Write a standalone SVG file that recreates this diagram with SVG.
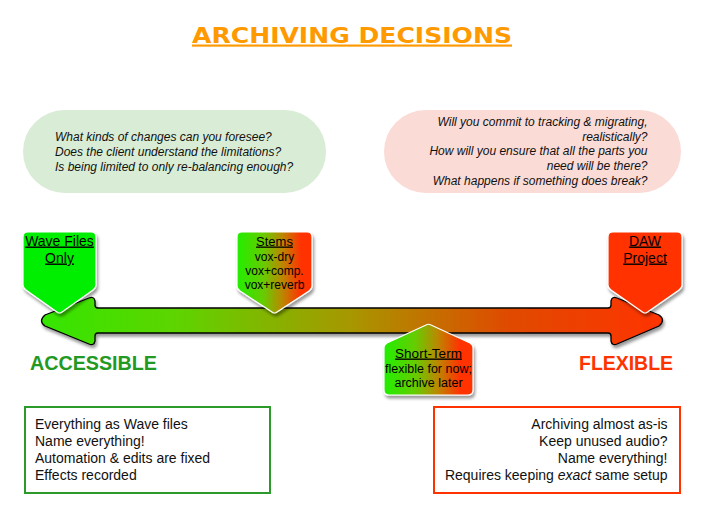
<svg xmlns="http://www.w3.org/2000/svg" width="705" height="513" viewBox="0 0 705 513">
<defs>
  <linearGradient id="gAxis" gradientUnits="userSpaceOnUse" x1="40" y1="0" x2="665" y2="0">
    <stop offset="0" stop-color="#33E600"/>
    <stop offset="0.22" stop-color="#5ED400"/>
    <stop offset="0.5" stop-color="#A89600"/>
    <stop offset="0.75" stop-color="#E04A00"/>
    <stop offset="1" stop-color="#FF3300"/>
  </linearGradient>
  <linearGradient id="gNode" x1="0" y1="0" x2="1" y2="0">
    <stop offset="0" stop-color="#22EE00"/>
    <stop offset="0.35" stop-color="#66CC00"/>
    <stop offset="0.6" stop-color="#BB8800"/>
    <stop offset="0.85" stop-color="#FF3300"/>
    <stop offset="1" stop-color="#FF3300"/>
  </linearGradient>
  <filter id="shadow" x="-20%" y="-20%" width="140%" height="150%">
    <feDropShadow dx="1.5" dy="3" stdDeviation="1.8" flood-color="#000" flood-opacity="0.4"/>
  </filter>
</defs>
<style>
  .node { stroke: #ffffff; stroke-width: 1.2; filter: url(#shadow); }
  .nt { font-family: "Liberation Sans", Arial, sans-serif; fill: #000; text-anchor: middle; }
  .u { text-decoration: underline; }
  .q { font-family: "Liberation Sans", Arial, sans-serif; font-size: 12px; font-style: italic; fill: #111; }
  .bt { font-family: "Liberation Sans", Arial, sans-serif; font-size: 14px; fill: #111; }
  .lbl { font-family: "Liberation Sans", Arial, sans-serif; font-size: 20px; font-weight: bold; }
</style>
<rect width="705" height="513" fill="#ffffff"/>

<g id="title">
  <text x="192" y="42.5" font-family="'DejaVu Sans', Verdana, sans-serif" font-weight="bold" font-size="21.5" fill="#FF9900" text-decoration="underline" textLength="320" lengthAdjust="spacingAndGlyphs">ARCHIVING DECISIONS</text>
</g>

<g id="bubble-left">
  <rect x="23" y="110" width="303" height="83" rx="41.5" fill="#D9EDD6"/>
  <text class="q" x="55" y="141">What kinds of changes can you foresee?</text>
  <text class="q" x="55" y="156">Does the client understand the limitations?</text>
  <text class="q" x="55" y="171">Is being limited to only re-balancing enough?</text>
</g>

<g id="bubble-right">
  <rect x="384" y="110" width="297" height="83" rx="41.5" fill="#FADBD6"/>
  <g text-anchor="end">
    <text class="q" x="647.5" y="126">Will you commit to tracking &amp; migrating,</text>
    <text class="q" x="647.5" y="140.7">realistically?</text>
    <text class="q" x="647.5" y="155.4">How will you ensure that all the parts you</text>
    <text class="q" x="647.5" y="170">need will be there?</text>
    <text class="q" x="647.5" y="184.7">What happens if something does break?</text>
  </g>
</g>

<g id="connectors">
  <path id="axis" d="M 98,308 H 608 Q 611,308 611,305 L 611,301 Q 612,296 617,298 L 659,315 Q 666,320 659,326 L 617,344 Q 612,346 611,341 L 611,336 Q 611,333 608,333 H 98 Q 95,333 95,336 L 95,341 Q 94,346 89,344 L 45,326 Q 38,321 45,315 L 89,298 Q 94,296 95,301 L 95,305 Q 95,308 98,308 Z" fill="url(#gAxis)" stroke="#000" stroke-width="1.3" filter="url(#shadow)"/>
</g>

<g id="node-wave">
  <path class="node" d="M 28,232 H 91 Q 96,232 96,237 V 285 Q 96,288 93,290 L 62,312 Q 59.5,314 57,312 L 26,290 Q 23,288 23,285 V 237 Q 23,232 28,232 Z" fill="#00EE00"/>
  <text class="nt u" x="59.5" y="245.5" font-size="14">Wave Files</text>
  <text class="nt u" x="59.5" y="262.5" font-size="14">Only</text>
</g>

<g id="node-stems">
  <path class="node" d="M 242,232 H 307 Q 312,232 312,237 V 286 Q 312,289 309,291 L 277,312 Q 274.5,314 272,312 L 240,291 Q 237,289 237,286 V 237 Q 237,232 242,232 Z" fill="url(#gNode)"/>
  <text class="nt u" x="274.5" y="245.5" font-size="13">Stems</text>
  <text class="nt" x="274.5" y="261" font-size="12">vox-dry</text>
  <text class="nt" x="274.5" y="274.5" font-size="12">vox+comp.</text>
  <text class="nt" x="274.5" y="288.5" font-size="12">vox+reverb</text>
</g>

<g id="node-daw">
  <path class="node" d="M 613,232 H 677 Q 682,232 682,237 V 285 Q 682,288 679,290 L 647.5,312 Q 645,314 642.5,312 L 611,290 Q 608,288 608,285 V 237 Q 608,232 613,232 Z" fill="#FF3300"/>
  <text class="nt u" x="645" y="245.5" font-size="14">DAW</text>
  <text class="nt u" x="645" y="262.5" font-size="14">Project</text>
</g>

<g id="node-shortterm">
  <path class="node" d="M 389,395 H 468 Q 473,395 473,390 V 348 Q 473,345 470,343 L 431,325 Q 428.5,323.5 426,325 L 387,343 Q 384,345 384,348 V 390 Q 384,395 389,395 Z" fill="url(#gNode)"/>
  <text class="nt u" x="428.5" y="357.5" font-size="13.5">Short-Term</text>
  <text class="nt" x="428.5" y="372.5" font-size="12.5">flexible for now;</text>
  <text class="nt" x="428.5" y="386.5" font-size="12.5">archive later</text>
</g>

<g id="label-accessible">
  <text class="lbl" x="30" y="369.5" fill="#229922" textLength="127" lengthAdjust="spacingAndGlyphs">ACCESSIBLE</text>
</g>
<g id="label-flexible">
  <text class="lbl" x="579" y="369.5" fill="#FF3300" textLength="94" lengthAdjust="spacingAndGlyphs">FLEXIBLE</text>
</g>

<g id="box-left">
  <rect x="25" y="407" width="245" height="86" fill="#ffffff" stroke="#2A9A2A" stroke-width="2"/>
  <text class="bt" x="35" y="429">Everything as Wave files</text>
  <text class="bt" x="35" y="446">Name everything!</text>
  <text class="bt" x="35" y="463">Automation &amp; edits are fixed</text>
  <text class="bt" x="35" y="480">Effects recorded</text>
</g>

<g id="box-right">
  <rect x="434" y="407" width="246" height="86" fill="#ffffff" stroke="#FF3300" stroke-width="2"/>
  <g text-anchor="end">
    <text class="bt" x="667.5" y="429">Archiving almost as-is</text>
    <text class="bt" x="667.5" y="446">Keep unused audio?</text>
    <text class="bt" x="667.5" y="463">Name everything!</text>
    <text class="bt" x="667.5" y="480">Requires keeping <tspan font-style="italic">exact</tspan> same setup</text>
  </g>
</g>
</svg>
